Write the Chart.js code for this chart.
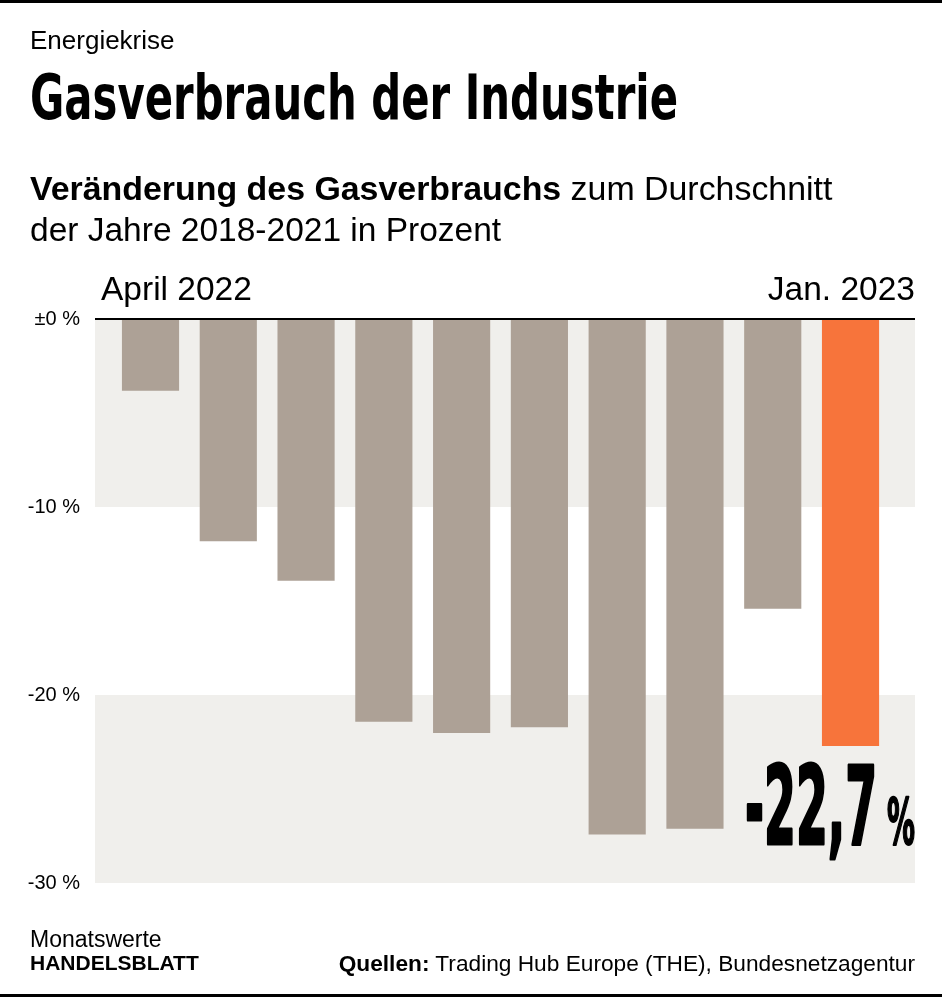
<!DOCTYPE html>
<html><head><meta charset="utf-8">
<script src="https://cdn.jsdelivr.net/npm/chart.js@4.4.0/dist/chart.umd.min.js"></script>
<style>
html,body{margin:0;padding:0;background:#fff;}
body{width:942px;height:997px;position:relative;overflow:hidden;font-family:"Liberation Sans",Arial,sans-serif;color:#000;}
#c{position:absolute;left:0;top:0;}
.t{position:absolute;white-space:nowrap;line-height:1;}
.line{position:absolute;left:0;width:942px;height:3px;background:#000;}
.narrow{font-family:"Liberation Sans Narrow","Arial Narrow","DejaVu Sans Condensed",sans-serif;font-weight:bold;transform-origin:0 0;}
</style></head><body>
<canvas id="c" width="942" height="997"></canvas>
<div class="line" style="top:0"></div>
<div class="line" style="top:994px"></div>
<div class="t" id="kicker" style="left:30px;top:27px;font-size:26px;">Energiekrise</div>
<div class="t narrow" id="title" style="left:30px;top:66px;font-size:63px;">Gasverbrauch der Industrie</div>
<div class="t" style="left:30px;top:172px;font-size:33.9px;"><b>Veränderung des Gasverbrauchs</b> zum Durchschnitt</div>
<div class="t" style="left:30px;top:213px;font-size:33.5px;">der Jahre 2018-2021 in Prozent</div>
<div class="t" id="firstLab" style="left:101px;top:272px;font-size:33.5px;"></div>
<div class="t" id="lastLab" style="right:27px;top:272px;font-size:33.5px;"></div>
<div class="t" style="left:30px;top:928px;font-size:23px;">Monatswerte</div>
<div class="t" style="left:30px;top:952px;font-size:21px;font-weight:bold;">HANDELSBLATT</div>
<div class="t" style="right:27px;top:952px;font-size:22.7px;"><b>Quellen:</b> Trading Hub Europe (THE), Bundesnetzagentur</div>
<script>
// ---- data ----
const categories = ['April 2022','Mai 2022','Juni 2022','Juli 2022','August 2022','September 2022','Oktober 2022','November 2022','Dezember 2022','Jan. 2023'];
const values = [-3.8, -11.8, -13.9, -21.4, -22.0, -21.7, -27.4, -27.1, -15.4, -22.7];
const yTicks = [0, -10, -20, -30];
const bandRanges = [[0, -10], [-20, -30]];
const highlightIndex = 9;

// ---- colours ----
const GREY = '#ada196';
const ORANGE = '#f7743b';
const BAND = '#f0efec';

document.getElementById('firstLab').textContent = categories[0];
document.getElementById('lastLab').textContent = categories[categories.length - 1];

// fit title width
const title = document.getElementById('title');
const tw = title.getBoundingClientRect().width;
title.style.transform = 'scaleX(' + (648 / tw) + ')';

const bandsPlugin = {
  id: 'bands',
  beforeDatasetsDraw(chart) {
    const {ctx, chartArea, scales} = chart;
    ctx.save();
    ctx.fillStyle = BAND;
    bandRanges.forEach(([a, b]) => {
      const y1 = scales.y.getPixelForValue(a);
      const y2 = scales.y.getPixelForValue(b);
      ctx.fillRect(chartArea.left, y1, chartArea.right - chartArea.left, y2 - y1);
    });
    ctx.restore();
  },
  afterDatasetsDraw(chart) {
    const {ctx, chartArea, scales} = chart;
    ctx.save();
    const y0 = scales.y.getPixelForValue(0);
    ctx.fillStyle = '#000';
    ctx.fillRect(chartArea.left, y0 - 1, chartArea.right - chartArea.left, 2);

    // highlight annotation
    const el = chart.getDatasetMeta(0).data[highlightIndex];
    const txt = values[highlightIndex].toFixed(1).replace('.', ',');
    const baseY = el.y + 98;
    const right = chartArea.right;
    const fam = '"Liberation Sans Narrow","Arial Narrow","DejaVu Sans Condensed",sans-serif';
    ctx.fillStyle = '#000';
    ctx.strokeStyle = '#000';
    ctx.lineJoin = 'round';
    // percent sign
    ctx.font = 'bold 64px ' + fam;
    const pw = ctx.measureText('%').width;
    const ps = 28 / pw;
    ctx.save();
    ctx.translate(right, baseY);
    ctx.scale(ps, 1);
    ctx.textAlign = 'right';
    ctx.textBaseline = 'alphabetic';
    ctx.lineWidth = 2;
    ctx.fillText('%', 0, 0);
    ctx.strokeText('%', 0, 0);
    ctx.restore();
    // number
    ctx.font = 'bold 108px ' + fam;
    const nw = ctx.measureText(txt).width;
    const ns = 132 / nw;
    ctx.save();
    ctx.translate(right - 38, baseY);
    ctx.scale(ns, 1);
    ctx.textAlign = 'right';
    ctx.textBaseline = 'alphabetic';
    ctx.lineWidth = 3;
    ctx.fillText(txt, 0, 0);
    ctx.strokeText(txt, 0, 0);
    ctx.restore();
    ctx.restore();
  }
};

new Chart(document.getElementById('c'), {
  type: 'bar',
  data: {
    datasets: [{
      data: values.map((v, i) => ({x: i, y: v})),
      backgroundColor: values.map((v, i) => i === highlightIndex ? ORANGE : GREY),
      borderWidth: 0,
      barThickness: 56.5
    }]
  },
  options: {
    responsive: false,
    animation: false,
    devicePixelRatio: 1,
    events: [],
    layout: {padding: {left: 0, right: 27, top: 319, bottom: 114}},
    plugins: {legend: {display: false}, tooltip: {enabled: false}},
    scales: {
      x: {
        type: 'linear',
        display: false,
        offset: false,
        min: -0.7136,
        max: 9.829
      },
      y: {
        min: -30,
        max: 0,
        border: {display: false},
        grid: {display: false, drawTicks: false},
        afterFit(scale) { scale.width = 95; },
        afterBuildTicks(scale) { scale.ticks = yTicks.map(v => ({value: v})); },
        ticks: {
          padding: 15,
          color: '#000',
          font: {family: '"Liberation Sans", Arial, sans-serif', size: 20},
          callback: v => v === 0 ? '±0 %' : v + ' %'
        }
      }
    }
  },
  plugins: [bandsPlugin]
});
</script>
</body></html>
